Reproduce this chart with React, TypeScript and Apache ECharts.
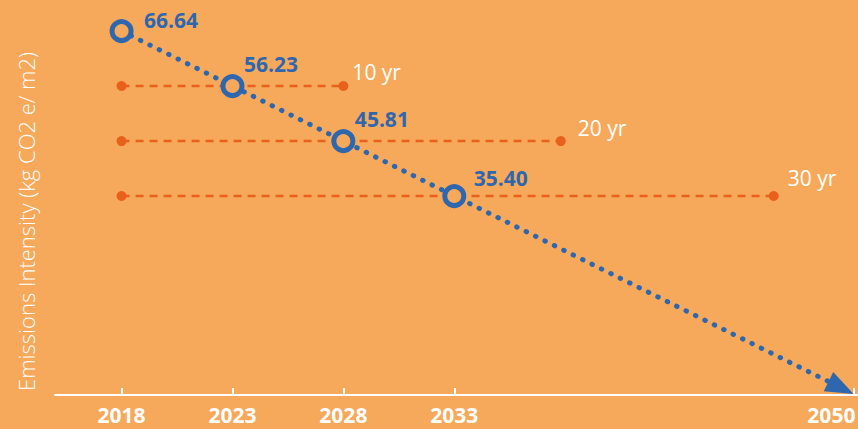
import React, { useEffect, useRef } from "react";
import * as echarts from "echarts";

// ---- data ----
const YEARS = [2018, 2023, 2028, 2033];
const INTENSITY = [66.64, 56.23, 45.81, 35.4];
const TREND_END_YEAR = 2051;
const TREND_END_VALUE = -2.07;
const HORIZON_LABELS = ["10 yr", "20 yr", "30 yr"];
const HORIZON_VALUES = [56.23, 45.81, 35.4];
const HORIZON_START = 2018;
const HORIZON_END = [2028, 2037.8, 2047.4];
const X_LABELS = [2018, 2023, 2028, 2033, 2050];
const X_TICKS = [2018, 2023, 2028, 2033, 2051];
const Y_TITLE = "Emissions Intensity (kg CO2 e/ m2)";

// ---- styles ----
const BG = "#F6A95A";
const BLUE = "#2F67AE";
const ORANGE = "#E9601C";
const FONT = "'Open Sans', 'Noto Sans', sans-serif";
const ARROW_SIZE = [21.5, 28];
const POINT_LABEL_OFFSETS = [
  [10.5, -11],
  [-0.5, -22],
  [-0.5, -22],
  [7.5, -18],
];
const HORIZON_LABEL_OFFSETS = [
  [4, -14],
  [12, -13],
  [9, -18],
];

function buildOption(arrowRotate: number, arrowOffset: number[]) {
  const horizonSeries = HORIZON_VALUES.map((v, i) => ({
    type: "line",
    z: 1,
    silent: true,
    symbol: "circle",
    symbolSize: 10,
    showSymbol: true,
    itemStyle: { color: ORANGE },
    lineStyle: { color: ORANGE, width: 2.5, type: [8, 6] },
    data: [
      { value: [HORIZON_START, v] },
      {
        value: [HORIZON_END[i], v],
        label: {
          show: true,
          position: "right",
          distance: 0,
          offset: HORIZON_LABEL_OFFSETS[i],
          formatter: HORIZON_LABELS[i],
          color: "#ffffff",
          fontSize: 21,
          fontFamily: FONT,
          fontWeight: "normal",
        },
      },
    ],
  }));

  return {
    animation: false,
    backgroundColor: BG,
    grid: {
      left: 55,
      right: 0,
      top: 13.3,
      bottom: 34,
      containLabel: false,
      outerBoundsMode: "none",
    },
    xAxis: {
      type: "value",
      min: 2015,
      max: 2051.2,
      axisLine: {
        show: true,
        onZero: false,
        lineStyle: { color: "#ffffff", width: 2 },
      },
      axisTick: {
        show: true,
        inside: true,
        length: 7,
        customValues: X_TICKS,
        lineStyle: { color: "#ffffff", width: 2 },
      },
      axisLabel: {
        show: true,
        customValues: X_LABELS,
        color: "#ffffff",
        fontSize: 21,
        fontWeight: "bold",
        fontFamily: FONT,
        margin: 9,
        formatter: (v: number) => String(v),
      },
      splitLine: { show: false },
    },
    yAxis: {
      type: "value",
      min: -2.27,
      max: 70,
      show: false,
      splitLine: { show: false },
    },
    graphic: [
      {
        type: "text",
        x: 26,
        y: 221.5,
        rotation: Math.PI / 2,
        style: {
          text: Y_TITLE,
          fill: "#ffffff",
          fontSize: 22,
          fontWeight: 300,
          fontFamily: FONT,
          align: "center",
          verticalAlign: "middle",
        },
      },
    ],
    series: [
      ...horizonSeries,
      {
        type: "lines",
        coordinateSystem: "cartesian2d",
        z: 2,
        silent: true,
        symbol: "none",
        lineStyle: {
          color: BLUE,
          width: 5,
          type: [0.5, 10],
          cap: "round",
          opacity: 1,
        },
        data: [
          {
            coords: [
              [YEARS[0], INTENSITY[0]],
              [TREND_END_YEAR, TREND_END_VALUE],
            ],
          },
        ],
      },
      {
        type: "scatter",
        z: 3,
        silent: true,
        clip: false,
        symbol: "triangle",
        symbolSize: ARROW_SIZE,
        symbolRotate: arrowRotate,
        symbolOffset: arrowOffset,
        itemStyle: { color: BLUE, opacity: 1 },
        data: [[TREND_END_YEAR, TREND_END_VALUE]],
      },
      {
        type: "line",
        z: 4,
        silent: true,
        symbol: "circle",
        symbolSize: 19,
        showSymbol: true,
        lineStyle: { width: 0, opacity: 0 },
        itemStyle: { color: BG, borderColor: BLUE, borderWidth: 5 },
        data: YEARS.map((y, i) => ({
          value: [y, INTENSITY[i]],
          label: {
            show: true,
            position: "right",
            distance: 0,
            offset: POINT_LABEL_OFFSETS[i],
            formatter: INTENSITY[i].toFixed(2),
            color: BLUE,
            fontSize: 21,
            fontWeight: "bold",
            fontFamily: FONT,
          },
        })),
      },
    ],
  };
}

export default function App() {
  const ref = useRef<HTMLDivElement>(null);

  useEffect(() => {
    if (!ref.current) return;
    const chart = echarts.init(ref.current, undefined, { renderer: "svg" });
    chart.setOption(buildOption(0, [0, 0]) as any);

    const p0 = chart.convertToPixel({ gridIndex: 0 }, [YEARS[0], INTENSITY[0]]) as number[];
    const p1 = chart.convertToPixel({ gridIndex: 0 }, [TREND_END_YEAR, TREND_END_VALUE]) as number[];
    const ang = Math.atan2(p1[1] - p0[1], p1[0] - p0[0]);
    const rotateDeg = -(90 + (ang * 180) / Math.PI);
    const half = ARROW_SIZE[1] / 2;
    const offset = [-half * Math.cos(ang), -half * Math.sin(ang)];
    chart.setOption(buildOption(rotateDeg, offset) as any, { notMerge: true });

    return () => chart.dispose();
  }, []);

  return (
    <div
      ref={ref}
      style={{ position: "fixed", left: 0, top: 0, width: 858, height: 429 }}
    />
  );
}
